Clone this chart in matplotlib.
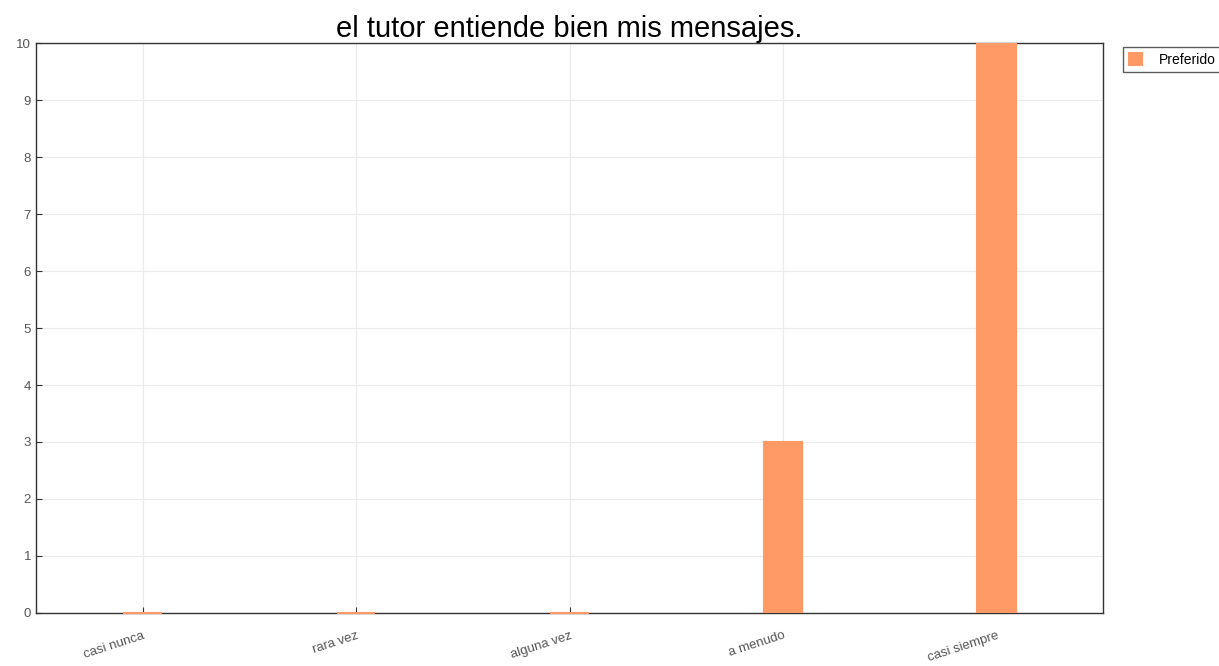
import matplotlib
matplotlib.use("Agg")
import matplotlib.pyplot as plt
import numpy as np

plt.rcParams['font.family'] = ['Liberation Sans', 'DejaVu Sans']

categories = ["casi nunca", "rara vez", "alguna vez", "a menudo", "casi siempre"]
preferido = [0, 0, 0, 3, 10]

color = "#ff9966"

fig = plt.figure(figsize=(12.19, 6.66), dpi=100)
ax = fig.add_axes([0.0295, 0.0796, 0.8755, 0.8558])

x = np.arange(len(categories))
bars = ax.bar(x, preferido, width=0.18, color=color, edgecolor=color, linewidth=1.5,
              label="Preferido", zorder=3)
# zero-height bars show up as a short line on the axis
for b, v in zip(bars, preferido):
    if v == 0:
        b.set_clip_on(False)

ax.set_xlim(-0.5, 4.5)
ax.set_ylim(0, 10)
ax.set_yticks(range(0, 11))
ax.set_xticks(x)
ax.set_xticklabels(categories, rotation=18, ha="right", rotation_mode="anchor",
                   fontsize=9.5, color="#555555")
ax.tick_params(axis="y", labelsize=9.5, labelcolor="#555555", direction="in",
               length=4, color="#333333")
ax.tick_params(axis="x", direction="in", length=4, color="#333333", pad=12)
ax.grid(True, color="#ebebeb", linewidth=0.8, zorder=0)
for s in ax.spines.values():
    s.set_color("#333333")
    s.set_linewidth(1.0)

ax.set_title("el tutor entiende bien mis mensajes.", fontsize=21, pad=1)

ax.legend(loc="upper left", bbox_to_anchor=(1.012, 1.005), fontsize=10,
          frameon=True, fancybox=False, edgecolor="#333333",
          handlelength=1.0, handleheight=1.0, borderpad=0.4, handletextpad=1.2)

fig.savefig("out.png", dpi=100)
